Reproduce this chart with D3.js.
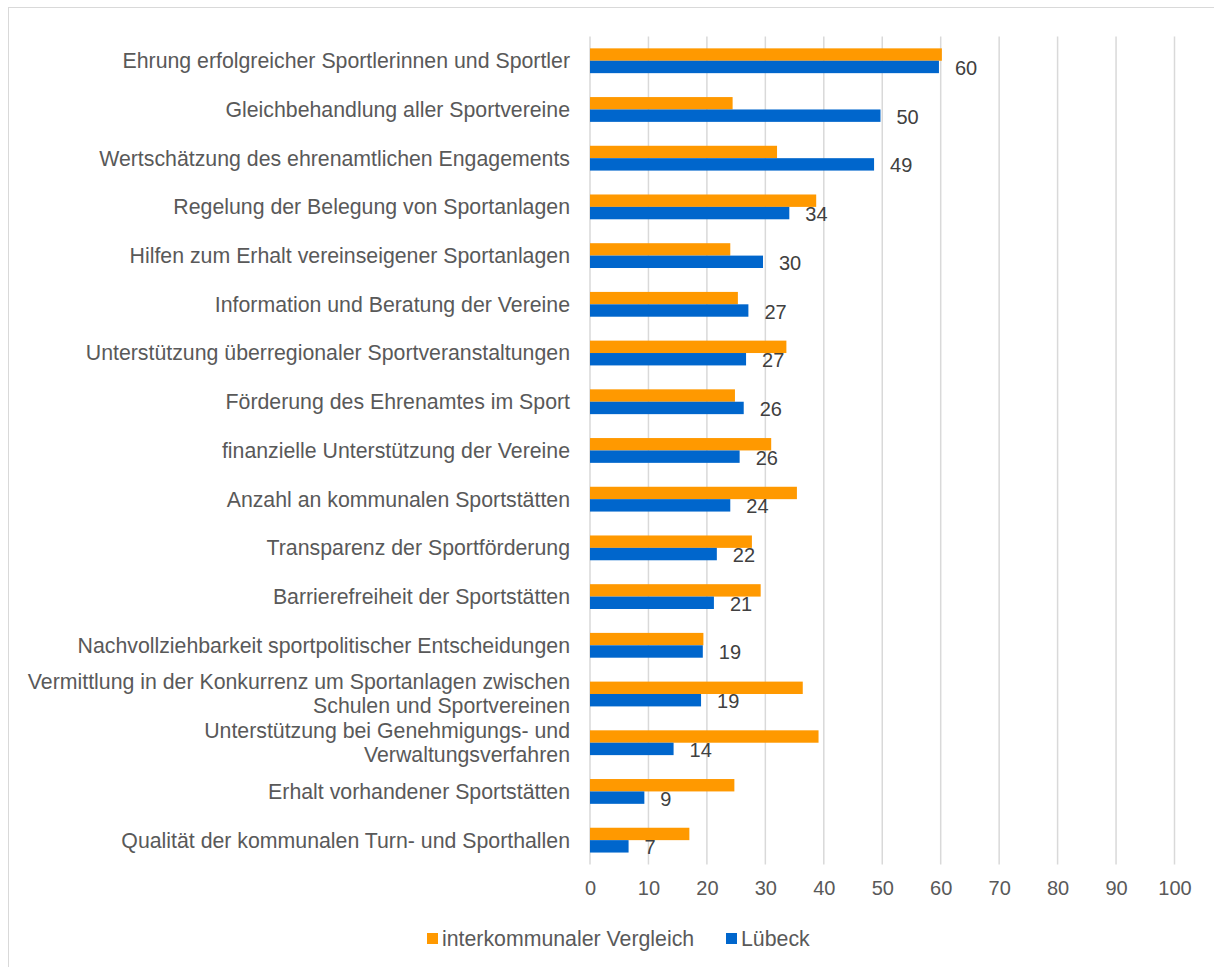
<!DOCTYPE html>
<meta charset="utf-8">

<style type="text/css">
	body {
		margin: 0;
		background: #ffffff;
	}
	svg {
		display: block;
		font-family: "Liberation Sans", Arial, sans-serif;
	}
</style>

<body>

</body>

<script src="https://d3js.org/d3.v7.min.js"></script>

<script>

	var categories = [
		"Ehrung erfolgreicher Sportlerinnen und Sportler",
		"Gleichbehandlung aller Sportvereine",
		"Wertschätzung des ehrenamtlichen Engagements",
		"Regelung der Belegung von Sportanlagen",
		"Hilfen zum Erhalt vereinseigener Sportanlagen",
		"Information und Beratung der Vereine",
		"Unterstützung überregionaler Sportveranstaltungen",
		"Förderung des Ehrenamtes im Sport",
		"finanzielle Unterstützung der Vereine",
		"Anzahl an kommunalen Sportstätten",
		"Transparenz der Sportförderung",
		"Barrierefreiheit der Sportstätten",
		"Nachvollziehbarkeit sportpolitischer Entscheidungen",
		"Vermittlung in der Konkurrenz um Sportanlagen zwischen Schulen und Sportvereinen",
		"Unterstützung bei Genehmigungs- und Verwaltungsverfahren",
		"Erhalt vorhandener Sportstätten",
		"Qualität der kommunalen Turn- und Sporthallen"
	];

	var seriesNames = ["interkommunaler Vergleich", "Lübeck"];
	var seriesColors = ["#ff9900", "#0066cc"];

	var interkommunal = [60.2, 24.4, 32.0, 38.7, 24.0, 25.3, 33.6, 24.8, 31.0, 35.4, 27.7, 29.2, 19.4, 36.4, 39.1, 24.7, 17.0];
	var luebeck = [59.7, 49.7, 48.6, 34.1, 29.6, 27.1, 26.7, 26.3, 25.6, 24.0, 21.7, 21.2, 19.3, 19.0, 14.3, 9.3, 6.6];

	var xTicks = [0, 10, 20, 30, 40, 50, 60, 70, 80, 90, 100];

	var width = 1214;
	var height = 967;
	var plot = {left: 590, right: 1174.5, top: 36.4, bottom: 864.5};

	var textColor = "#595959";
	var gridColor = "#d9d9d9";
	var fontSize = 20;
	var labelSize = 21.3;

	var svg = d3.select("body").append("svg")
		.attr("width", width)
		.attr("height", height);

	// chart frame (runs off right and bottom edge like in the source)
	svg.append("rect")
		.attr("x", 8.5)
		.attr("y", 7.5)
		.attr("width", width + 20)
		.attr("height", height + 20)
		.attr("fill", "#ffffff")
		.attr("stroke", gridColor)
		.attr("stroke-width", 1);

	var xScale = d3.scaleLinear()
		.domain([0, 100])
		.range([plot.left, plot.right]);

	var yScale = d3.scaleBand()
		.domain(categories)
		.range([plot.top, plot.bottom]);

	var inner = d3.scaleBand()
		.domain(seriesNames)
		.range([0, yScale.bandwidth()])
		.paddingInner(0)
		.paddingOuter(0.964);

	// gridlines
	svg.append("g")
		.selectAll("line")
		.data(xTicks)
		.enter()
		.append("line")
		.attr("x1", function(d) { return xScale(d); })
		.attr("x2", function(d) { return xScale(d); })
		.attr("y1", plot.top)
		.attr("y2", plot.bottom)
		.attr("stroke", gridColor)
		.attr("stroke-width", 1.5);

	// x axis tick labels
	var xAxis = d3.axisBottom(xScale)
		.tickValues(xTicks)
		.tickSize(0)
		.tickPadding(0);

	var xg = svg.append("g")
		.attr("transform", "translate(0," + (plot.bottom + 16) + ")")
		.call(xAxis);
	xg.select(".domain").remove();
	xg.selectAll("text")
		.attr("font-family", "Liberation Sans, Arial, sans-serif")
		.attr("font-size", fontSize)
		.attr("fill", textColor);

	// bars
	var seriesData = [interkommunal, luebeck];

	seriesData.forEach(function(values, s) {
		svg.append("g")
			.selectAll("rect")
			.data(values)
			.enter()
			.append("rect")
			.attr("x", xScale(0))
			.attr("y", function(d, i) { return yScale(categories[i]) + inner(seriesNames[s]); })
			.attr("width", function(d) { return xScale(d) - xScale(0); })
			.attr("height", inner.bandwidth())
			.attr("fill", seriesColors[s]);
	});

	// data labels for Lübeck
	svg.append("g")
		.selectAll("text")
		.data(luebeck)
		.enter()
		.append("text")
		.text(function(d) { return Math.round(d); })
		.attr("x", function(d) { return xScale(d) + 16; })
		.attr("y", function(d, i) { return yScale(categories[i]) + inner(seriesNames[1]) + inner.bandwidth() / 2 + 1; })
		.attr("dy", "0.35em")
		.attr("font-size", fontSize)
		.attr("fill", "#404040");

	// category labels with wrapping
	var maxLabelWidth = 555;
	var lineHeight = 24;

	var labels = svg.append("g")
		.selectAll("text")
		.data(categories)
		.enter()
		.append("text")
		.attr("text-anchor", "end")
		.attr("font-size", labelSize)
		.attr("fill", textColor);

	labels.each(function(d) {
		var el = d3.select(this);
		var words = d.split(" ");
		var lines = [];
		var line = [];
		var probe = el.append("tspan");
		words.forEach(function(w) {
			line.push(w);
			probe.text(line.join(" "));
			if (probe.node().getComputedTextLength() > maxLabelWidth && line.length > 1) {
				line.pop();
				lines.push(line.join(" "));
				line = [w];
			}
		});
		lines.push(line.join(" "));
		probe.remove();

		var cy = yScale(d) + yScale.bandwidth() / 2;
		var startY = cy - (lines.length - 1) * lineHeight / 2;
		lines.forEach(function(t, k) {
			el.append("tspan")
				.attr("x", 570)
				.attr("y", startY + k * lineHeight)
				.attr("dy", "0.35em")
				.text(t);
		});
	});

	// legend
	var legend = svg.append("g")
		.attr("transform", "translate(0,939)");

	var legendX = [427, 726];

	seriesNames.forEach(function(name, s) {
		legend.append("rect")
			.attr("x", legendX[s])
			.attr("y", -6)
			.attr("width", 11)
			.attr("height", 11)
			.attr("fill", seriesColors[s]);
		legend.append("text")
			.attr("x", legendX[s] + 15)
			.attr("y", 0)
			.attr("dy", "0.35em")
			.attr("font-size", labelSize)
			.attr("fill", textColor)
			.text(name);
	});

</script>
